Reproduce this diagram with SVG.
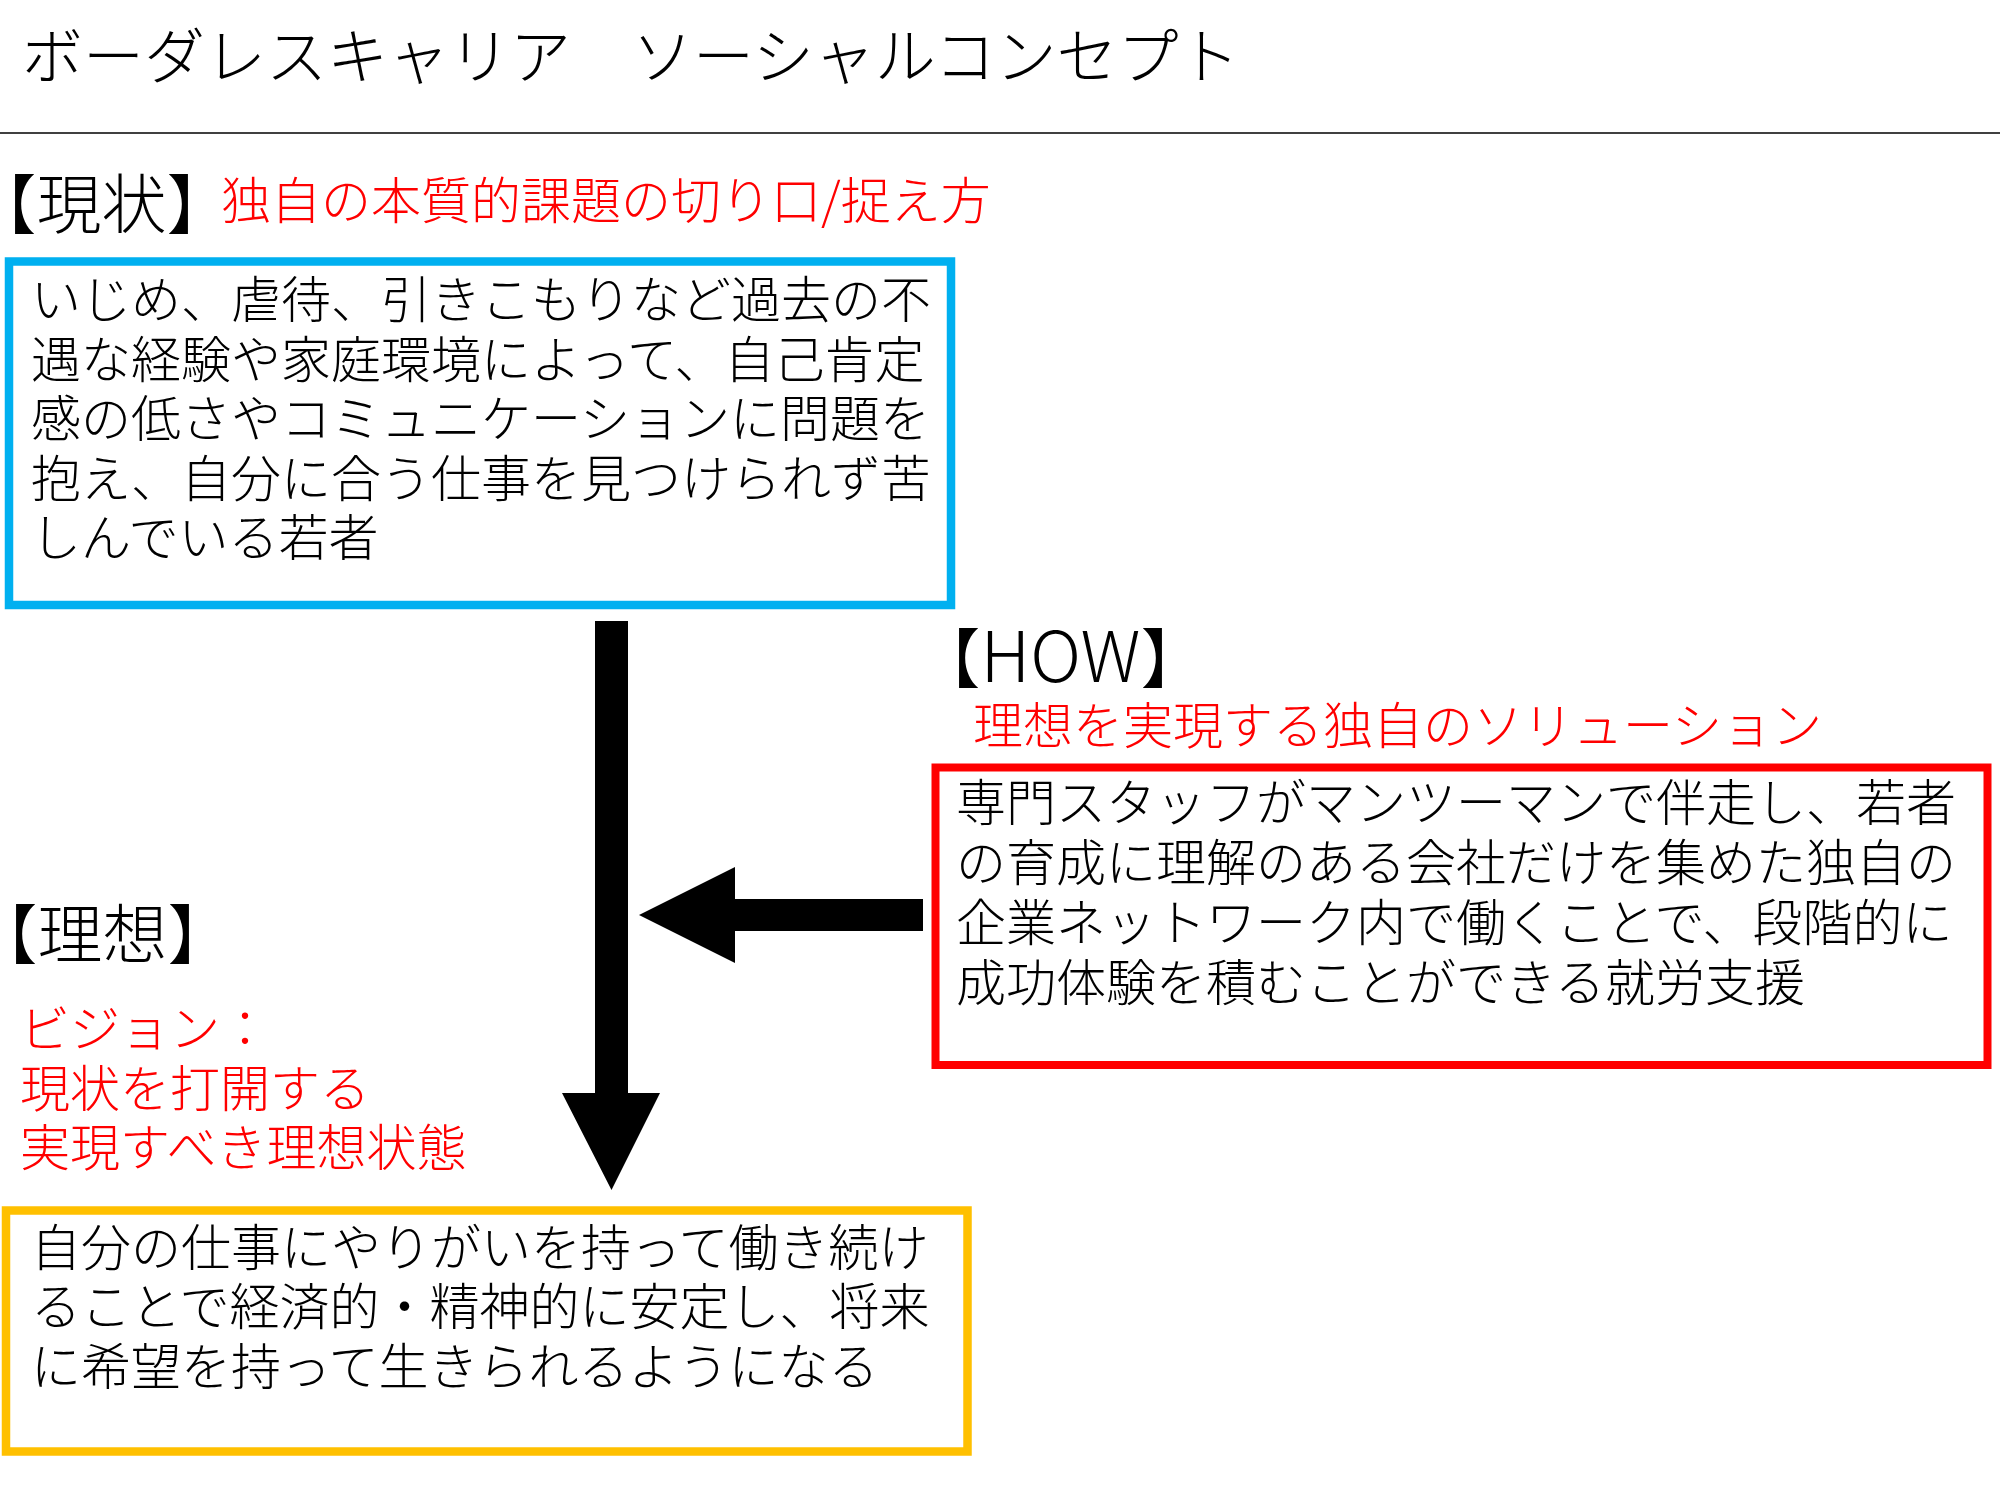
<svg xmlns="http://www.w3.org/2000/svg" width="2000" height="1500" viewBox="0 0 2000 1500">
<style>
text{font-family:"Noto Sans CJK JP","Noto Sans CJK SC",sans-serif;font-weight:300;}
.title{font-size:61px;fill:#000;}
.head{font-size:65px;fill:#000;font-feature-settings:"halt";}
.sub{font-size:50px;fill:#FF0000;}
.body{font-size:50px;fill:#000;}
.box{fill:#FFFFFF;}
.arrow{fill:#000;stroke:none;}
</style>
<rect x="0" y="0" width="2000" height="1500" fill="#FFFFFF"/>
<g id="title">
<text class="title" x="22" y="79">ボーダレスキャリア　ソーシャルコンセプト</text>
<line x1="0" y1="133" x2="2000" y2="133" stroke="#404040" stroke-width="2"/>
</g>
<g id="current-heading">
<text class="head" x="4" y="227.5">【現状】</text>
<text class="sub" x="221" y="218.5">独自の本質的課題の切り口/捉え方</text>
</g>
<g id="current-box">
<rect class="box" x="9" y="261.5" width="942" height="343.5" stroke="#00B0F0" stroke-width="8.5"/>
<text class="body"><tspan x="31" y="318">いじめ、虐待、引きこもりなど過去の不</tspan><tspan x="31" y="377.6">遇な経験や家庭環境によって、自己肯定</tspan><tspan x="31" y="437.2">感の低さやコミュニケーションに問題を</tspan><tspan x="31" y="496.8">抱え、自分に合う仕事を見つけられず苦</tspan><tspan x="31" y="556.4">しんでいる若者</tspan></text>
</g>
<g id="how-heading">
<text class="head" x="948" y="682">【<tspan font-size="70">HOW</tspan>】</text>
<text class="sub" x="973" y="743.5">理想を実現する独自のソリューション</text>
</g>
<g id="how-box">
<rect class="box" x="935.5" y="767.5" width="1052" height="297.5" stroke="#FF0000" stroke-width="8"/>
<text class="body"><tspan x="956" y="821">専門スタッフがマンツーマンで伴走し、若者</tspan><tspan x="956" y="881">の育成に理解のある会社だけを集めた独自の</tspan><tspan x="956" y="941">企業ネットワーク内で働くことで、段階的に</tspan><tspan x="956" y="1001">成功体験を積むことができる就労支援</tspan></text>
</g>
<g id="ideal-heading">
<text class="head" x="5" y="957.5">【理想】</text>
<text class="sub"><tspan x="20" y="1047">ビジョン：</tspan><tspan x="20" y="1106.5">現状を打開する</tspan><tspan x="20" y="1166">実現すべき理想状態</tspan></text>
</g>
<g id="ideal-box">
<rect class="box" x="6" y="1210.5" width="961.5" height="241" stroke="#FFC000" stroke-width="8.5"/>
<text class="body"><tspan x="31" y="1265.5">自分の仕事にやりがいを持って働き続け</tspan><tspan x="31" y="1325">ることで経済的・精神的に安定し、将来</tspan><tspan x="31" y="1384.5">に希望を持って生きられるようになる</tspan></text>
</g>
<g id="connectors">
<polygon class="arrow" points="595,621 628,621 628,1093 660,1093 611.5,1190 562,1093 595,1093"/>
<polygon class="arrow" points="923,899 735,899 735,867 639,915 735,963 735,931 923,931"/>
</g>
</svg>
